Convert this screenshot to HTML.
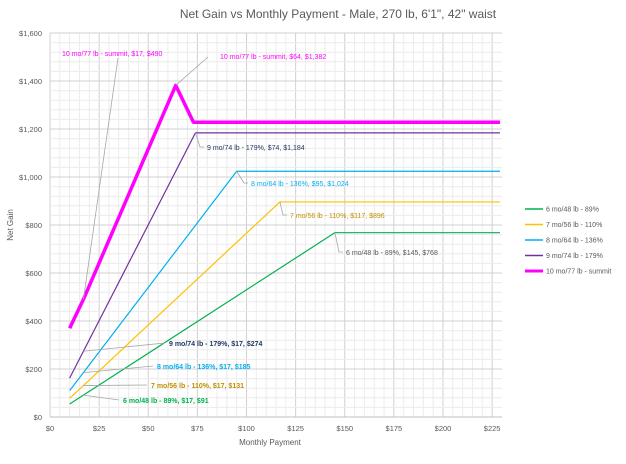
<!DOCTYPE html>
<html><head><meta charset="utf-8"><style>
body{margin:0;background:#fff;font-family:"Liberation Sans",sans-serif}
svg text{font-family:"Liberation Sans",sans-serif}
</style></head><body>
<svg id="c" width="626" height="459" xmlns="http://www.w3.org/2000/svg">
<rect width="626" height="459" fill="#fff"/>
<text x="338" y="18" text-anchor="middle" font-size="12" fill="#595959">Net Gain vs Monthly Payment - Male, 270 lb, 6'1", 42" waist</text>
<text x="13" y="225" transform="rotate(-90 13 225)" text-anchor="middle" font-size="8" fill="#595959">Net Gain</text>
<text x="270" y="445" text-anchor="middle" font-size="8" fill="#595959">Monthly Payment</text>
<g id="grid"></g><g id="series"></g><g id="ann"></g><g id="legend"></g>
</svg>
<script>
const xTicks=[0,25,50,75,100,125,150,175,200,225];
const xTickLabels=["$0","$25","$50","$75","$100","$125","$150","$175","$200","$225"];
const yTicks=[0,200,400,600,800,1000,1200,1400,1600];
const yTickLabels=["$0","$200","$400","$600","$800","$1,000","$1,200","$1,400","$1,600"];
const seriesNames=["6 mo/48 lb - 89%","7 mo/56 lb - 110%","8 mo/64 lb - 136%","9 mo/74 lb - 179%","10 mo/77 lb - summit"];
const greenX=[10,17,145,229], greenY=[54,91,768,768];
const yellowX=[10,17,117,229], yellowY=[78,131,896,896];
const blueX=[10,17,95,229], blueY=[110,185,1024,1024];
const purpleX=[10,17,74,229], purpleY=[162,274,1184,1184];
const magentaX=[10,17,64,73,229], magentaY=[370,490,1382,1228,1228];
const colors=["#00b050","#ffc000","#00b0f0","#7030a0","#ff00ff"];
const L=50,R=502,T=33,B=417;
const xs=v=>L+v*1.965, ys=v=>B-(v/1600)*(B-T);
const NS="http://www.w3.org/2000/svg";
function mk(t,a,p){const e=document.createElementNS(NS,t);for(const k in a)e.setAttribute(k,a[k]);p.appendChild(e);return e;}
const grid=document.getElementById('grid');
for(let v=0;v<=229;v+=5){const l=mk('line',{x1:xs(v),x2:xs(v),y1:T,y2:B,stroke:v%25==0?'#d0d0d0':'#ececec','stroke-width':1},grid);
}
for(let v=0;v<=1600;v+=40){const l=mk('line',{x1:L,x2:R,y1:ys(v),y2:ys(v),stroke:v%200==0?'#d0d0d0':'#ececec','stroke-width':1},grid);
}
const ax=mk('line',{x1:L,x2:R,y1:B,y2:B,stroke:'#bfbfbf'},grid);

xTicks.forEach((v,i)=>{const t=mk('text',{x:xs(v),y:431,'text-anchor':'middle','font-size':7.5,fill:'#595959'},grid);t.textContent=xTickLabels[i];
});
yTicks.forEach((v,i)=>{const t=mk('text',{x:42,y:ys(v)+3,'text-anchor':'end','font-size':7.5,fill:'#595959'},grid);t.textContent=yTickLabels[i];
});
const sg=document.getElementById('series');
const data=[[greenX,greenY],[yellowX,yellowY],[blueX,blueY],[purpleX,purpleY],[magentaX,magentaY]];
data.forEach((d,i)=>{const p=mk('polyline',{points:d[0].map((x,j)=>xs(x)+','+ys(d[1][j])).join(' '),fill:'none',stroke:colors[i],'stroke-width':i==4?3.5:1.2,'stroke-linejoin':'round'},sg);
});
const ann=document.getElementById('ann');
const anns=[
 [62,56,"10 mo/77 lb - summit, $17, $490","#ff00ff",false,[[118,58],[xs(17),ys(490)]]],
 [220,59,"10 mo/77 lb - summit, $64, $1,382","#ff00ff",false,[[208,57],[xs(64),ys(1382)]]],
 [207,150,"9 mo/74 lb - 179%, $74, $1,184","#203864",false,[[xs(74),ys(1184)],[200,147],[204,147]]],
 [251,186,"8 mo/64 lb - 136%, $95, $1,024","#00b0f0",false,[[xs(95),ys(1024)],[244,183],[248,183]]],
 [290,218,"7 mo/56 lb - 110%, $117, $896","#bf9000",false,[[xs(117),ys(896)],[283,215],[287,215]]],
 [346,255,"6 mo/48 lb - 89%, $145, $768","#595959",false,[[xs(145),ys(768)],[339,252],[343,252]]],
 [169,346,"9 mo/74 lb - 179%, $17, $274","#203864",true,[[xs(17),ys(274)],[165,343]]],
 [157,369,"8 mo/64 lb - 136%, $17, $185","#00b0f0",true,[[xs(17),ys(185)],[153,366]]],
 [151,388,"7 mo/56 lb - 110%, $17, $131","#bf9000",true,[[xs(17),ys(131)],[147,385]]],
 [123,403,"6 mo/48 lb - 89%, $17, $91","#00b050",true,[[xs(17),ys(91)],[119,400]]]
];
anns.forEach(a=>{const l=mk('polyline',{points:a[5].map(p=>p.join(',')).join(' '),fill:'none',stroke:'#a6a6a6','stroke-width':0.8},ann);

const t=mk('text',{x:a[0],y:a[1],'font-size':7,fill:a[3],'font-weight':a[4]?'bold':'normal'},ann);t.textContent=a[2];
});
const lg=document.getElementById('legend');
seriesNames.forEach((n,i)=>{const y=209+i*15.5;
const l=mk('line',{x1:525,x2:543,y1:y,y2:y,stroke:colors[i],'stroke-width':i==4?3:1.5},lg);

const t=mk('text',{x:546,y:y+2.5,'font-size':7,fill:'#595959'},lg);t.textContent=n;
});
</script>
</body></html>
